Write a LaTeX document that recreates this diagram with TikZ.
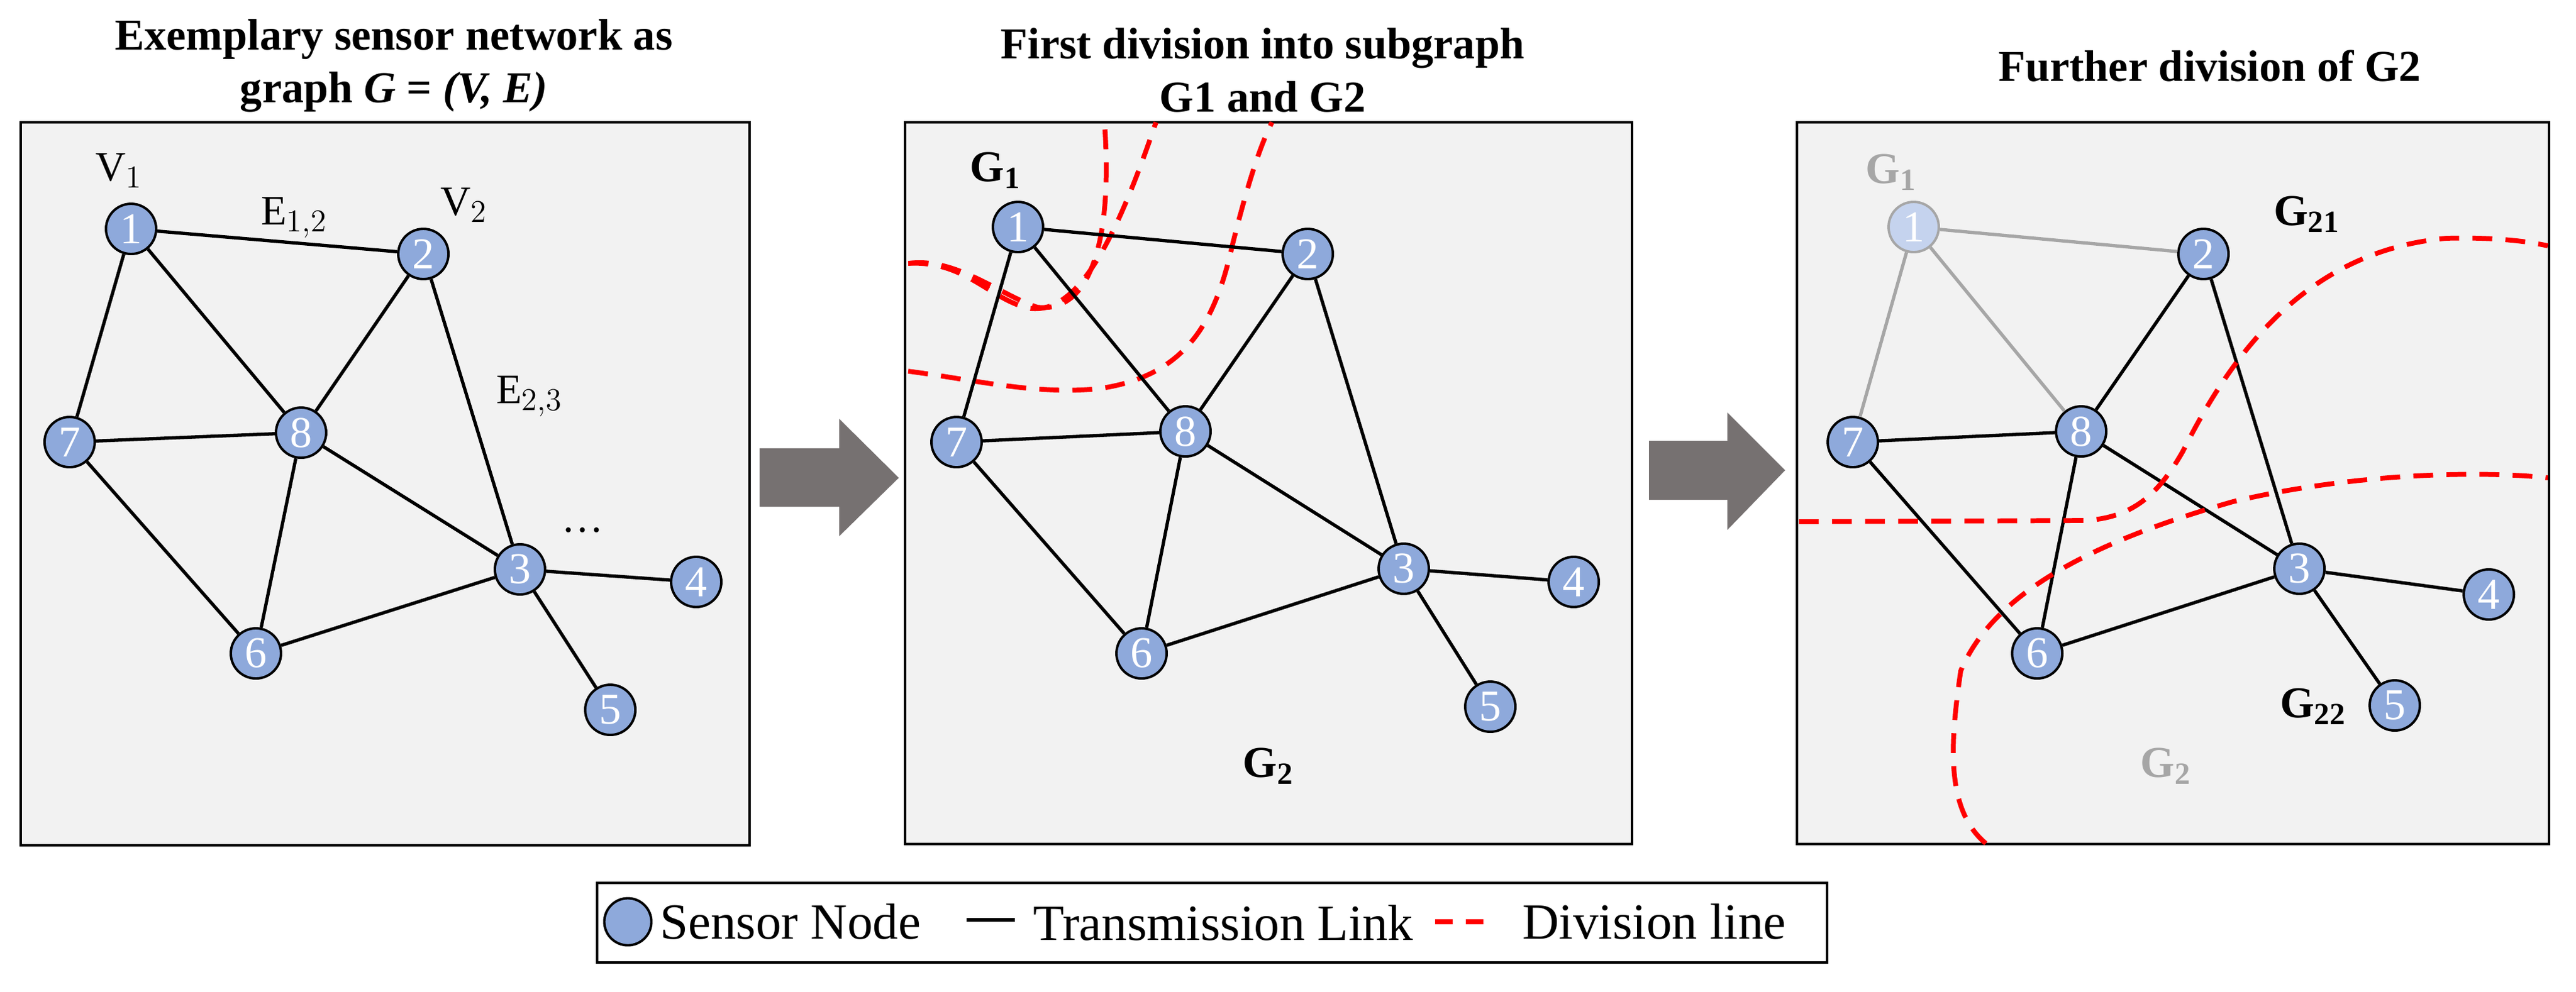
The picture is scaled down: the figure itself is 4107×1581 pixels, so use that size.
\documentclass[tikz,border=0pt]{standalone}
\usepackage{fontspec}
\setmainfont{Liberation Serif}
\begin{document}
\begin{tikzpicture}[x=0.01cm,y=-0.01cm,
  sn/.style={circle,draw=black,line width=1.1pt,fill=nodeblue,minimum size=0.8cm,inner sep=0pt,text=white,font=\fontsize{20}{20}\selectfont},
  snl/.style={sn,fill=lightblue,draw=gray!70,text=white},
  lk/.style={line width=1.5pt,black},
  lkg/.style={line width=1.5pt,linkgray},
  pan/.style={draw=black,line width=0.9pt,fill=panelgray},
  dv/.style={red,line width=2.2pt,dash pattern=on 9pt off 6pt},
  ttl/.style={font=\fontsize{20}{24}\selectfont\bfseries,align=center},
  lab/.style={font=\fontsize{19}{19}\selectfont},
  glab/.style={font=\fontsize{20}{20}\selectfont\bfseries},
  arr/.style={fill=arrowgray,draw=none}]
\definecolor{nodeblue}{HTML}{8EA9DB}
\definecolor{lightblue}{HTML}{C5D3EE}
\definecolor{linkgray}{HTML}{A6A6A6}
\definecolor{panelgray}{HTML}{F2F2F2}
\definecolor{arrowgray}{HTML}{767171}
\useasboundingbox (0,0) rectangle (4107,1581);
% titles
\node[ttl] (t1) at (628,105) {Exemplary sensor network as\\graph \textit{G} = \textit{(V, E)}};
\node[ttl] (t2) at (2013,112) {First division into subgraph\\G1 and G2};
\node[ttl] (t3) at (3523,105) {Further division of G2};
% panels
\draw[pan] (33,195) rectangle (1195,1348);
\draw[pan] (1443,195) rectangle (2602,1346);
\draw[pan] (2865,195) rectangle (4064,1346);
% arrows
\fill[arr] (1211,715) -- (1338,715) -- (1338,668) -- (1433,762) -- (1338,855) -- (1338,808) -- (1211,808) -- cycle;
\fill[arr] (2629,703) -- (2754,703) -- (2754,658) -- (2846,750) -- (2754,845) -- (2754,797) -- (2629,797) -- cycle;
% panel 1
\node[sn] (a1) at (209,365) {1};
\node[sn] (a2) at (675,405) {2};
\node[sn] (a3) at (829,908) {3};
\node[sn] (a4) at (1110,928) {4};
\node[sn] (a5) at (973,1132) {5};
\node[sn] (a6) at (408,1042) {6};
\node[sn] (a7) at (111,705) {7};
\node[sn] (a8) at (480,690) {8};
\foreach \u/\v in {1/2,1/7,1/8,2/8,2/3,7/8,7/6,8/6,8/3,6/3,3/4,3/5}
  \draw[lk] (a\u) -- (a\v);
\node[lab] (v1) at (190,272) {V$_1$};
\node[lab] (e12) at (469,347) {E$_{1,2}$};
\node[lab] (v2) at (740,327) {V$_2$};
\node[lab] (e23) at (844,632) {E$_{2,3}$};
\node[lab] (dots) at (929,845) {\dots};
% panel 2
\begin{scope}[xshift=14.43cm]
\draw[dv] (5,420) .. controls (80,410) and (150,470) .. (210,490) .. controls (300,500) and (330,370) .. (317,195);
\end{scope}
\draw[dv] (1448,420) .. controls (1540,415) and (1580,480) .. (1643,492) .. controls (1720,500) and (1780,380) .. (1843,195);
\draw[dv] (1448,592) .. controls (1550,605) and (1650,630) .. (1750,620) .. controls (1900,600) and (1940,500) .. (1965,390) .. controls (1990,290) and (2010,230) .. (2028,195);
\node[sn] (b1) at (1623,362) {1};
\node[sn] (b2) at (2085,405) {2};
\node[sn] (b3) at (2238,907) {3};
\node[sn] (b4) at (2509,928) {4};
\node[sn] (b5) at (2376,1127) {5};
\node[sn] (b6) at (1820,1042) {6};
\node[sn] (b7) at (1525,705) {7};
\node[sn] (b8) at (1890,688) {8};
\foreach \u/\v in {1/2,1/7,1/8,2/8,2/3,7/8,7/6,8/6,8/3,6/3,3/4,3/5}
  \draw[lk] (b\u) -- (b\v);
\node[glab] (g1b) at (1587,272) {G$_{\mathbf{1}}$};
\node[glab] (g2b) at (2022,1222) {G$_{\mathbf{2}}$};
% panel 3
\node[snl] (c1) at (3051,362) {1};
\node[sn] (c2) at (3513,405) {2};
\node[sn] (c3) at (3666,907) {3};
\node[sn] (c4) at (3968,948) {4};
\node[sn] (c5) at (3818,1125) {5};
\node[sn] (c6) at (3248,1042) {6};
\node[sn] (c7) at (2954,705) {7};
\node[sn] (c8) at (3318,688) {8};
\foreach \u/\v in {1/2,1/7,1/8}
  \draw[lkg] (c\u) -- (c\v);
\foreach \u/\v in {2/8,2/3,7/8,7/6,8/6,8/3,6/3,3/4,3/5}
  \draw[lk] (c\u) -- (c\v);
\draw[dv] (2868,832) -- (3326,830) .. controls (3400,825) and (3440,790) .. (3480,720) .. controls (3560,560) and (3680,400) .. (3900,380) .. controls (3980,378) and (4030,385) .. (4062,392);
\draw[dv] (3166,1345) .. controls (3100,1290) and (3110,1180) .. (3126,1070) .. controls (3180,940) and (3350,860) .. (3560,800) .. controls (3750,755) and (3950,750) .. (4062,762);
\node[glab,text=linkgray] (g1c) at (3015,275) {G$_{\mathbf{1}}$};
\node[glab] (g21) at (3678,342) {G$_{\mathbf{21}}$};
\node[glab] (g22) at (3688,1127) {G$_{\mathbf{22}}$};
\node[glab,text=linkgray] (g2c) at (3453,1222) {G$_{\mathbf{2}}$};
% legend
\draw[line width=0.9pt] (952,1408) rectangle (2913,1535);
\node[sn,minimum size=0.75cm] (ln) at (1001,1470) {};
\node[font=\fontsize{23}{23}\selectfont,anchor=west] (lt1) at (1040,1470) {Sensor Node};
\coordinate (la) at (1541,1467); \coordinate (lb) at (1618,1467);
\draw[lk] (la) -- (lb);
\node[font=\fontsize{23}{23}\selectfont,anchor=west] (lt2) at (1635,1472) {Transmission Link};
\coordinate (lc) at (2288,1470); \coordinate (ld) at (2383,1470);
\draw[dv,dash pattern=on 8pt off 6pt] (lc) -- (ld);
\node[font=\fontsize{23}{23}\selectfont,anchor=west] (lt3) at (2415,1470) {Division line};
\end{tikzpicture}
\end{document}
